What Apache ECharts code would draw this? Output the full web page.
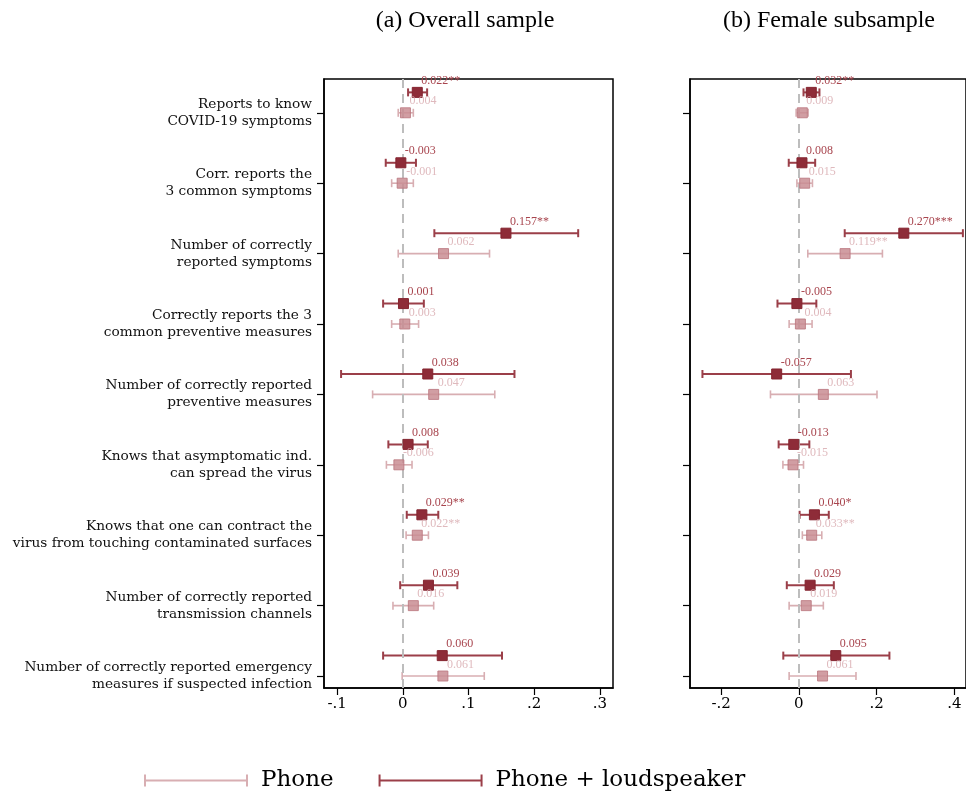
<!DOCTYPE html>
<html>
<head>
<meta charset="utf-8">
<script src="https://cdn.jsdelivr.net/npm/echarts@6/dist/echarts.min.js"></script>
<style>html,body{margin:0;padding:0;background:#fff}#c{width:966px;height:798px}</style>
</head>
<body>
<div id="c"></div>
<script>
// ---------- data ----------
const categories = [
  "Reports to know\nCOVID-19 symptoms",
  "Corr. reports the\n3 common symptoms",
  "Number of correctly\nreported symptoms",
  "Correctly reports the 3\ncommon preventive measures",
  "Number of correctly reported\npreventive measures",
  "Knows that asymptomatic ind.\ncan spread the virus",
  "Knows that one can contract the\nvirus from touching contaminated surfaces",
  "Number of correctly reported\ntransmission channels",
  "Number of correctly reported emergency\nmeasures if suspected infection"
];
const panelTitles = ["(a) Overall sample", "(b) Female subsample"];
const seriesNames = ["Phone", "Phone + loudspeaker"];

// (a) Overall sample
const overallPhone     = [0.004, -0.001, 0.062, 0.003, 0.047, -0.006, 0.022, 0.016, 0.061];
const overallPhoneLo   = [-0.007, -0.017, -0.007, -0.017, -0.046, -0.025, 0.005, -0.015, -0.001];
const overallPhoneHi   = [0.016, 0.016, 0.132, 0.024, 0.140, 0.014, 0.039, 0.047, 0.124];
const overallPhoneLbl  = ["0.004", "-0.001", "0.062", "0.003", "0.047", "-0.006", "0.022**", "0.016", "0.061"];
const overallLoud      = [0.022, -0.003, 0.157, 0.001, 0.038, 0.008, 0.029, 0.039, 0.060];
const overallLoudLo    = [0.008, -0.026, 0.048, -0.030, -0.094, -0.022, 0.006, -0.004, -0.030];
const overallLoudHi    = [0.037, 0.020, 0.267, 0.032, 0.170, 0.038, 0.054, 0.083, 0.151];
const overallLoudLbl   = ["0.022**", "-0.003", "0.157**", "0.001", "0.038", "0.008", "0.029**", "0.039", "0.060"];

// (b) Female subsample
const femalePhone      = [0.009, 0.015, 0.119, 0.004, 0.063, -0.015, 0.033, 0.019, 0.061];
const femalePhoneLo    = [-0.007, -0.005, 0.023, -0.025, -0.073, -0.041, 0.009, -0.025, -0.025];
const femalePhoneHi    = [0.024, 0.035, 0.215, 0.034, 0.201, 0.012, 0.059, 0.063, 0.147];
const femalePhoneLbl   = ["0.009", "0.015", "0.119**", "0.004", "0.063", "-0.015", "0.033**", "0.019", "0.061"];
const femaleLoud       = [0.032, 0.008, 0.270, -0.005, -0.057, -0.013, 0.040, 0.029, 0.095];
const femaleLoudLo     = [0.012, -0.026, 0.118, -0.055, -0.248, -0.052, 0.002, -0.031, -0.040];
const femaleLoudHi     = [0.053, 0.042, 0.422, 0.045, 0.134, 0.027, 0.077, 0.090, 0.233];
const femaleLoudLbl    = ["0.032**", "0.008", "0.270***", "-0.005", "-0.057", "-0.013", "0.040*", "0.029", "0.095"];

const overallTicks = [-0.1, 0, 0.1, 0.2, 0.3];
const femaleTicks  = [-0.2, 0, 0.2, 0.4];

// ---------- styling ----------
const LIGHT = '#d8aeb2', LIGHT_MK = '#c98d93', LIGHT_BD = '#bb7880', LIGHT_LBL = '#d9adb1';
const DARK = '#9b3f49', DARK_MK = '#8e2c38', DARK_BD = '#84242f', DARK_LBL = '#a8454e';
const SERIF = '"DejaVu Serif", serif';
const OFFSET = 0.29; // vertical separation of the two estimates (category units)
const catIdx = categories.map((_, i) => i);

function fmtTick(v) {
  if (Math.abs(v) < 1e-9) return '0';
  let s = String(Math.round(v * 10) / 10);
  return s.replace('0.', '.');
}

function barData(lo, hi, off) {
  return lo.map((l, i) => [l, hi[i], i + off]);
}
function pointData(v, lbl, off) {
  return v.map((x, i) => ({ value: [x, i + off], lbl: lbl[i] }));
}
function errSeries(name, gi, lo, hi, off, color, width) {
  return {
    type: 'custom', name: name, xAxisIndex: gi, yAxisIndex: gi,
    itemStyle: { color: color },
    data: barData(lo, hi, off),
    encode: { x: [0, 1], y: 2 },
    z: 3,
    renderItem: function (params, api) {
      const y = api.value(2);
      const a = api.coord([api.value(0), y]);
      const b = api.coord([api.value(1), y]);
      const h = 4;
      const st = { stroke: color, lineWidth: width };
      return {
        type: 'group',
        children: [
          { type: 'line', shape: { x1: a[0], y1: a[1], x2: b[0], y2: b[1] }, style: st },
          { type: 'line', shape: { x1: a[0], y1: a[1] - h, x2: a[0], y2: a[1] + h }, style: st },
          { type: 'line', shape: { x1: b[0], y1: b[1] - h, x2: b[0], y2: b[1] + h }, style: st }
        ]
      };
    }
  };
}
function ptSeries(name, gi, v, lbl, off, fill, border, opacity, lblColor, withZero) {
  const s = {
    type: 'scatter', name: name, xAxisIndex: gi, yAxisIndex: gi,
    symbol: 'rect', symbolSize: 10, z: 5,
    itemStyle: { color: fill, borderColor: border, borderWidth: 1, opacity: opacity },
    data: pointData(v, lbl, off),
    label: {
      show: true, position: 'top', distance: 1, align: 'left', offset: [4, 1],
      fontFamily: '"Liberation Serif", serif', fontSize: 12, color: lblColor,
      formatter: p => p.data.lbl
    },
    emphasis: { disabled: true }
  };
  if (withZero) {
    s.markLine = {
      silent: true, symbol: ['none', 'none'], label: { show: false },
      lineStyle: { color: '#bdbdbd', type: [9, 6], width: 2 },
      data: [{ xAxis: 0 }]
    };
  }
  return s;
}

const gridTop = 79, gridH = 609;
const grids = [
  { left: 324, top: gridTop, width: 289, height: gridH, show: true, borderColor: '#000', borderWidth: 1.5, containLabel: false },
  { left: 690, top: gridTop, width: 277, height: gridH, show: true, borderColor: '#000', borderWidth: 1.5, containLabel: false }
];

function xAx(gi, min, max, ticks) {
  return {
    type: 'value', gridIndex: gi, min: min, max: max,
    splitLine: { show: false },
    axisLine: { show: true, onZero: false, lineStyle: { color: '#000', width: 1.5 } },
    axisTick: { show: true, customValues: ticks, length: 7, lineStyle: { color: '#000', width: 1.2 } },
    axisLabel: { customValues: ticks, formatter: fmtTick, margin: 9, fontFamily: SERIF, fontSize: 15, color: '#000' }
  };
}
function yAx(gi, showLabels) {
  return {
    type: 'value', gridIndex: gi, inverse: true, min: -0.48, max: 8.17,
    splitLine: { show: false },
    axisLine: { show: true, onZero: false, lineStyle: { color: '#000', width: 1.5 } },
    axisTick: { show: true, customValues: catIdx, length: 7, lineStyle: { color: '#000', width: 1.2 } },
    axisLabel: {
      show: showLabels, customValues: catIdx, margin: 12,
      formatter: v => categories[Math.round(v)] || '',
      fontFamily: SERIF, fontSize: 13.7, lineHeight: 17, color: '#111', align: 'right'
    }
  };
}

const legendIcon = 'path://M0,0 H2 V5 H102 V0 H104 V12 H102 V7 H2 V12 H0 Z';

const option = {
  animation: false,
  backgroundColor: '#fff',
  title: [
    { text: panelTitles[0], left: 465, top: 9, textAlign: 'center', padding: 0,
      textStyle: { fontFamily: '"Liberation Serif", serif', fontSize: 24, fontWeight: 'normal', color: '#000' } },
    { text: panelTitles[1], left: 829, top: 9, textAlign: 'center', padding: 0,
      textStyle: { fontFamily: '"Liberation Serif", serif', fontSize: 24, fontWeight: 'normal', color: '#000' } }
  ],
  legend: {
    left: 144, top: 769, itemWidth: 104, itemHeight: 12, itemGap: 45, padding: 0,
    selectedMode: false,
    textStyle: { fontFamily: SERIF, fontSize: 23, color: '#000', padding: [0, 0, 0, 8] },
    data: [
      { name: seriesNames[0], icon: legendIcon, itemStyle: { color: LIGHT, borderWidth: 0, opacity: 1 } },
      { name: seriesNames[1], icon: legendIcon, itemStyle: { color: DARK, borderWidth: 0, opacity: 1 } }
    ]
  },
  grid: grids,
  xAxis: [xAx(0, -0.12, 0.32, overallTicks), xAx(1, -0.28, 0.43, femaleTicks)],
  yAxis: [yAx(0, true), yAx(1, false)],
  series: [
    ptSeries(seriesNames[0], 0, overallPhone, overallPhoneLbl, 0, LIGHT_MK, LIGHT_BD, 0.85, LIGHT_LBL, true),
    errSeries(seriesNames[0], 0, overallPhoneLo, overallPhoneHi, 0, LIGHT, 1.6),
    errSeries(seriesNames[1], 0, overallLoudLo, overallLoudHi, -OFFSET, DARK, 2),
    ptSeries(seriesNames[1], 0, overallLoud, overallLoudLbl, -OFFSET, DARK_MK, DARK_BD, 1, DARK_LBL, false),

    ptSeries(seriesNames[0], 1, femalePhone, femalePhoneLbl, 0, LIGHT_MK, LIGHT_BD, 0.85, LIGHT_LBL, true),
    errSeries(seriesNames[0], 1, femalePhoneLo, femalePhoneHi, 0, LIGHT, 1.6),
    errSeries(seriesNames[1], 1, femaleLoudLo, femaleLoudHi, -OFFSET, DARK, 2),
    ptSeries(seriesNames[1], 1, femaleLoud, femaleLoudLbl, -OFFSET, DARK_MK, DARK_BD, 1, DARK_LBL, false)
  ]
};

const chart = echarts.init(document.getElementById('c'), null, { renderer: 'canvas' });
chart.setOption(option);
</script>
</body>
</html>
